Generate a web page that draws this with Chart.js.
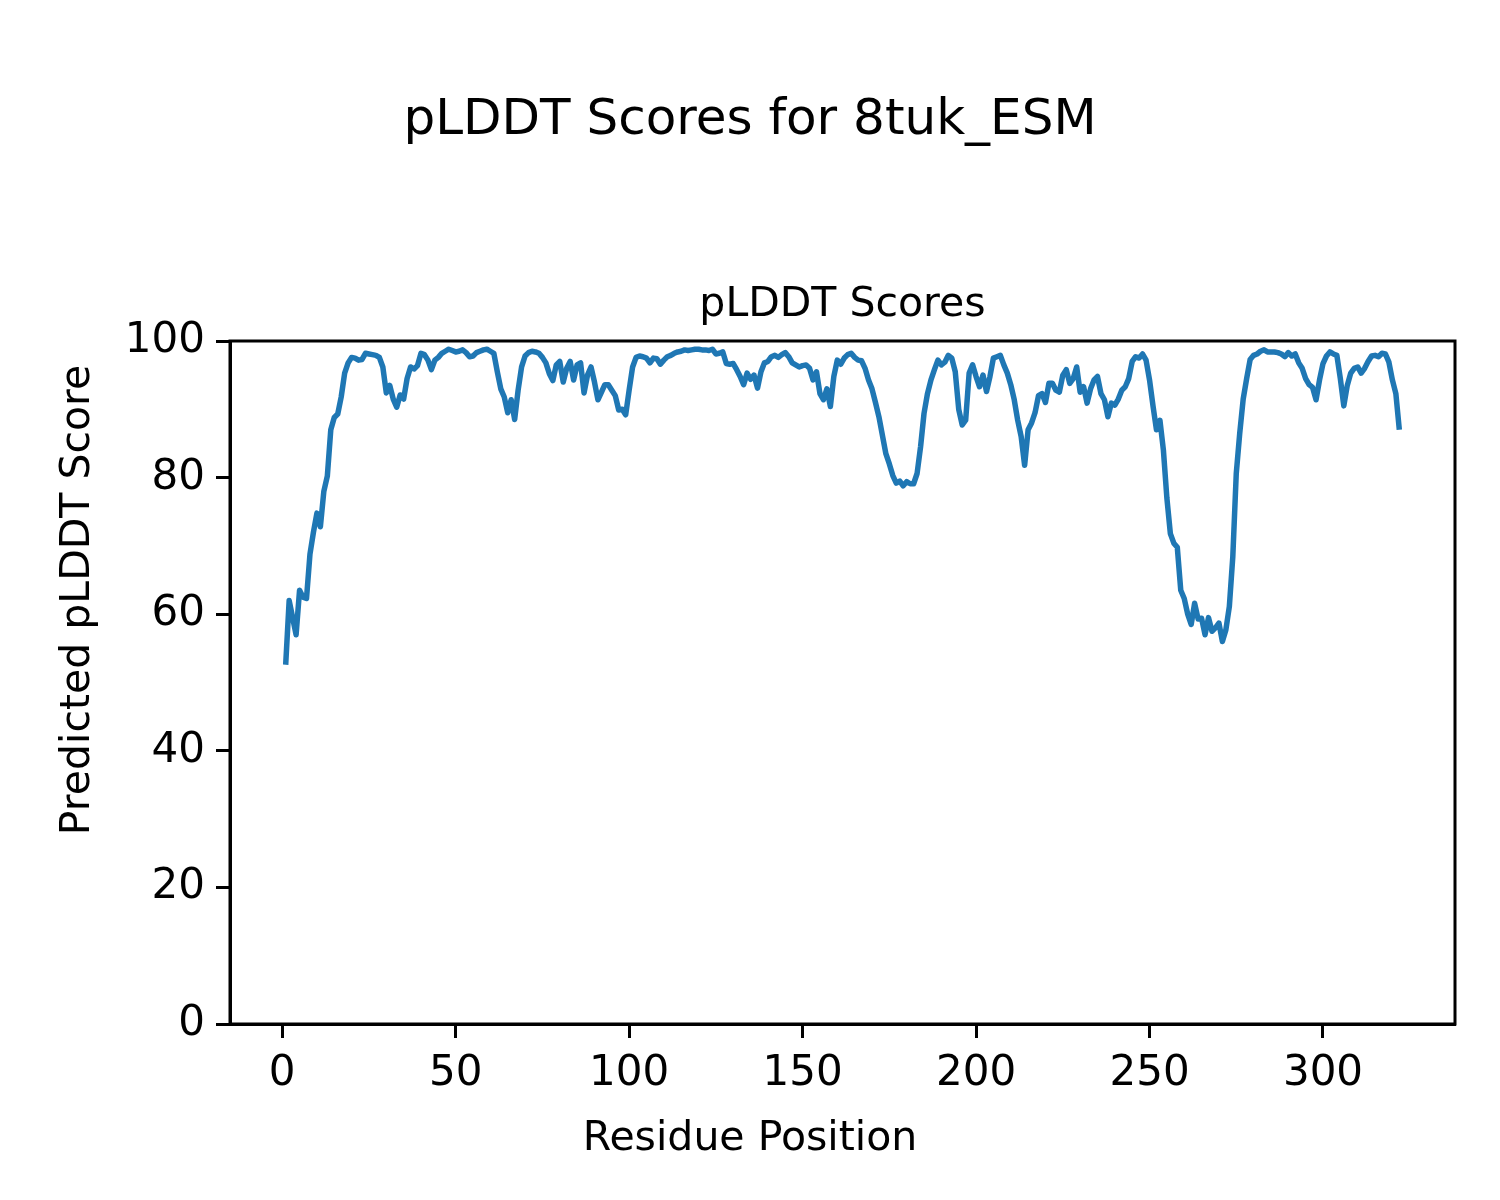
<!DOCTYPE html>
<html>
<head>
<meta charset="utf-8">
<title>pLDDT Scores for 8tuk_ESM</title>
<script src="https://cdn.jsdelivr.net/npm/chart.js@4.4.1/dist/chart.umd.min.js"></script>
<style>
    body { margin: 0; background: #fff; }
    #wrap { width: 1500px; height: 1200px; }
</style>
</head>
<body>
<div id="wrap"><canvas id="plddtChart" width="1500" height="1200"></canvas></div>
<script>
// pLDDT per residue (residue 1..322)
const scores = [
    52.6, 62.0, 59.5, 57.0, 63.5, 62.5, 62.3, 68.8, 72.0, 74.8,
    72.8, 78.0, 80.2, 87.0, 88.8, 89.3, 91.8, 95.3, 96.8, 97.6,
    97.5, 97.2, 97.3, 98.2, 98.1, 98.0, 97.9, 97.6, 96.2, 92.4,
    93.5, 91.5, 90.3, 92.1, 91.5, 94.5, 96.2, 95.9, 96.4, 98.2,
    98.0, 97.2, 95.8, 97.2, 97.6, 98.2, 98.5, 98.8, 98.6, 98.4,
    98.5, 98.7, 98.3, 97.7, 97.8, 98.3, 98.5, 98.7, 98.8, 98.5,
    98.2, 95.5, 93.0, 91.8, 89.5, 91.4, 88.5, 92.8, 96.2, 97.8,
    98.3, 98.5, 98.4, 98.2, 97.6, 96.8, 95.2, 94.2, 96.5, 97.0,
    94.0, 96.0, 97.0, 94.3, 96.5, 96.8, 92.4, 95.0, 96.2, 94.0,
    91.4, 92.5, 93.6, 93.6, 92.8, 92.0, 89.9, 90.0, 89.2, 92.8,
    96.2, 97.6, 97.8, 97.7, 97.5, 96.8, 97.5, 97.4, 96.6, 97.2,
    97.7, 97.9, 98.2, 98.4, 98.5, 98.7, 98.6, 98.7, 98.8, 98.8,
    98.7, 98.7, 98.6, 98.8, 98.1, 98.2, 98.4, 96.7, 96.6, 96.7,
    95.8, 94.8, 93.6, 95.3, 94.4, 95.0, 93.1, 95.5, 96.8, 97.0,
    97.7, 97.9, 97.6, 98.0, 98.3, 97.7, 96.8, 96.5, 96.2, 96.4,
    96.5, 96.0, 94.3, 95.5, 92.3, 91.4, 93.0, 90.4, 94.8, 97.2,
    96.6, 97.5, 98.0, 98.2, 97.6, 97.2, 97.1, 96.0, 94.3, 93.0,
    91.0, 88.9, 86.2, 83.5, 82.0, 80.3, 79.2, 79.5, 78.8, 79.4,
    79.1, 79.1, 80.6, 84.5, 89.4, 92.3, 94.3, 95.8, 97.2, 96.5,
    96.9, 97.9, 97.5, 95.5, 90.0, 87.7, 88.4, 95.3, 96.5, 94.8,
    93.3, 95.0, 92.6, 94.8, 97.5, 97.7, 97.9, 96.5, 95.3, 93.6,
    91.4, 88.4, 86.0, 81.8, 87.0, 88.0, 89.5, 92.0, 92.3, 91.0,
    93.8, 93.8, 92.8, 92.5, 95.0, 95.8, 93.8, 94.5, 96.2, 92.5,
    93.3, 90.9, 93.0, 94.3, 94.8, 92.3, 91.4, 88.9, 90.9, 90.6,
    91.5, 92.8, 93.3, 94.5, 97.0, 97.7, 97.5, 98.1, 97.2, 94.3,
    90.5, 87.0, 88.4, 84.0, 77.0, 71.8, 70.4, 69.8, 63.5, 62.3,
    60.0, 58.5, 61.6, 59.3, 59.4, 57.0, 59.5, 57.5, 58.0, 58.7,
    56.0, 57.7, 61.1, 68.4, 80.6, 86.5, 91.5, 94.5, 97.3, 97.9,
    98.1, 98.5, 98.7, 98.4, 98.4, 98.4, 98.3, 98.1, 97.7, 98.3,
    97.8, 98.1, 96.8, 96.0, 94.5, 93.6, 93.2, 91.4, 94.3, 96.7,
    97.8, 98.4, 98.1, 97.9, 94.5, 90.5, 93.5, 95.3, 96.0, 96.2,
    95.3, 96.0, 97.0, 97.8, 97.9, 97.7, 98.2, 98.1, 96.9, 94.3,
    92.3, 87.0
];
const residues = scores.map((_, i) => i + 1);

const xTicks = [0, 50, 100, 150, 200, 250, 300];
const yTicks = [0, 20, 40, 60, 80, 100];

const figTitle = 'pLDDT Scores for 8tuk_ESM';
const axTitle = 'pLDDT Scores';
const xLabel = 'Residue Position';
const yLabel = 'Predicted pLDDT Score';

const FONT = '"DejaVu Sans", sans-serif';

// titel, label dan spine atas/kanan ala matplotlib
const textPlugin = {
    id: 'textPlugin',
    afterDraw(chart) {
        const ctx = chart.ctx;
        const a = chart.chartArea;
        ctx.save();
        ctx.strokeStyle = '#000';
        ctx.lineWidth = 3;
        ctx.strokeRect(a.left, a.top, a.right - a.left, a.bottom - a.top);

        ctx.fillStyle = '#000';
        ctx.textAlign = 'center';
        ctx.textBaseline = 'middle';
        ctx.font = '50px ' + FONT;
        ctx.fillText(figTitle, 750, 121);

        ctx.font = '41px ' + FONT;
        ctx.textBaseline = 'alphabetic';
        ctx.fillText(axTitle, (a.left + a.right) / 2, a.top - 25);

        ctx.textBaseline = 'middle';
        ctx.fillText(xLabel, 750, 1139);

        ctx.translate(78, 600);
        ctx.rotate(-Math.PI / 2);
        ctx.fillText(yLabel, 0, 0);
        ctx.restore();
    }
};

const ctx = document.getElementById('plddtChart').getContext('2d');
new Chart(ctx, {
    type: 'line',
    data: {
        datasets: [{
            label: 'pLDDT',
            data: residues.map((r, i) => ({ x: r, y: scores[i] })),
            borderColor: '#1f77b4',
            borderWidth: 5.5,
            borderJoinStyle: 'round',
            borderCapStyle: 'butt',
            pointRadius: 0,
            tension: 0,
            fill: false
        }]
    },
    options: {
        responsive: false,
        animation: false,
        devicePixelRatio: 1,
        layout: {
            padding: { left: 0, top: 341, right: 45, bottom: 0 }
        },
        plugins: {
            legend: { display: false },
            tooltip: { enabled: false },
            title: { display: false }
        },
        scales: {
            x: {
                type: 'linear',
                min: -15.05,
                max: 338.05,
                afterBuildTicks: (scale) => { scale.ticks = xTicks.map(v => ({ value: v })); },
                afterFit: (scale) => { scale.height = 176; },
                grid: {
                    drawOnChartArea: false,
                    drawTicks: true,
                    tickLength: 14,
                    tickWidth: 3,
                    tickColor: '#000'
                },
                border: { display: true, color: '#000', width: 3 },
                ticks: {
                    color: '#000',
                    padding: 11,
                    maxRotation: 0,
                    font: { family: FONT, size: 42 }
                }
            },
            y: {
                min: 0,
                max: 100,
                afterBuildTicks: (scale) => { scale.ticks = yTicks.map(v => ({ value: v })); },
                afterFit: (scale) => { scale.width = 230; },
                grid: {
                    drawOnChartArea: false,
                    drawTicks: true,
                    tickLength: 14,
                    tickWidth: 3,
                    tickColor: '#000'
                },
                border: { display: true, color: '#000', width: 3 },
                ticks: {
                    color: '#000',
                    padding: 11,
                    font: { family: FONT, size: 42 }
                }
            }
        }
    },
    plugins: [textPlugin]
});
</script>
</body>
</html>
